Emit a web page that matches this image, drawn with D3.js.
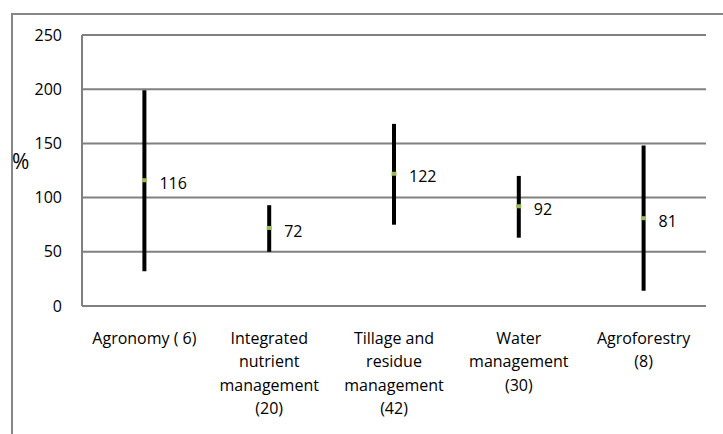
<!DOCTYPE html>
<html>
<head>
<meta charset="utf-8">
<script src="https://cdn.jsdelivr.net/npm/d3@7"></script>
<style>
  body { margin: 0; background: #fff; }
  text { font-family: "Open Sans", sans-serif; }
</style>
</head>
<body>
<div id="chart-area"></div>
<script>
// chart data
var categories = [
  ["Agronomy ( 6)"],
  ["Integrated", "nutrient", "management", "(20)"],
  ["Tillage and", "residue", "management", "(42)"],
  ["Water", "management", "(30)"],
  ["Agroforestry", "(8)"]
];
var highs = [199, 93, 168, 120, 148];
var lows = [32, 50, 75, 63, 14];
var means = [116, 72, 122, 92, 81];
var yTicks = [0, 50, 100, 150, 200, 250];

var width = 723, height = 434;
var margin = { left: 82, right: 17, top: 35, bottom: 128 };

var svg = d3.select("#chart-area")
  .append("svg")
  .attr("width", width)
  .attr("height", height);

// outer chart frame (cropped at right and bottom)
svg.append("path")
  .attr("d", "M12,434 V14 H723")
  .attr("fill", "none")
  .attr("stroke", "#878787")
  .attr("stroke-width", 2);

var x = d3.scaleBand()
  .domain(d3.range(categories.length))
  .range([margin.left, width - margin.right]);

var y = d3.scaleLinear()
  .domain([0, 250])
  .range([height - margin.bottom, margin.top]);

// gridlines
svg.selectAll(".grid")
  .data(yTicks)
  .enter().append("line")
  .attr("x1", margin.left)
  .attr("x2", width - margin.right)
  .attr("y1", function(d) { return y(d); })
  .attr("y2", function(d) { return y(d); })
  .attr("stroke", "#808080")
  .attr("stroke-width", 2);

// y axis line
svg.append("line")
  .attr("x1", margin.left)
  .attr("x2", margin.left)
  .attr("y1", y(250))
  .attr("y2", y(0))
  .attr("stroke", "#808080")
  .attr("stroke-width", 2);

// y tick labels
svg.selectAll(".ytick")
  .data(yTicks)
  .enter().append("text")
  .attr("x", 62)
  .attr("y", function(d) { return y(d); })
  .attr("dy", "0.35em")
  .attr("text-anchor", "end")
  .attr("font-size", "16px")
  .attr("fill", "#000")
  .text(function(d) { return d; });

svg.append("text")
  .attr("x", 12)
  .attr("y", 162)
  .attr("dy", "0.35em")
  .attr("font-size", "21px")
  .attr("fill", "#000")
  .text("%");

// range bars
var cx = function(i) { return x(i) + x.bandwidth() / 2; };

svg.selectAll(".range")
  .data(d3.range(categories.length))
  .enter().append("line")
  .attr("x1", cx)
  .attr("x2", cx)
  .attr("y1", function(i) { return y(highs[i]); })
  .attr("y2", function(i) { return y(lows[i]); })
  .attr("stroke", "#000")
  .attr("stroke-width", 4);

// mean markers
svg.selectAll(".mean")
  .data(d3.range(categories.length))
  .enter().append("rect")
  .attr("x", function(i) { return cx(i) - 2.5; })
  .attr("y", function(i) { return y(means[i]) - 2; })
  .attr("width", 5)
  .attr("height", 4)
  .attr("fill", "#9bbb59");

svg.selectAll(".meanlabel")
  .data(d3.range(categories.length))
  .enter().append("text")
  .attr("x", function(i) { return cx(i) + 15; })
  .attr("y", function(i) { return y(means[i]) + 3; })
  .attr("dy", "0.35em")
  .attr("font-size", "16px")
  .attr("fill", "#000")
  .text(function(i) { return means[i]; });

// category labels
var cat = svg.selectAll(".cat")
  .data(d3.range(categories.length))
  .enter().append("text")
  .attr("text-anchor", "middle")
  .attr("font-size", "16px")
  .attr("fill", "#000");

cat.selectAll("tspan")
  .data(function(i) { return categories[i].map(function(s) { return { i: i, s: s }; }); })
  .enter().append("tspan")
  .attr("x", function(d) { return cx(d.i); })
  .attr("y", function(d, j) { return 344 + j * 23.3; })
  .text(function(d) { return d.s; });
</script>
</body>
</html>
